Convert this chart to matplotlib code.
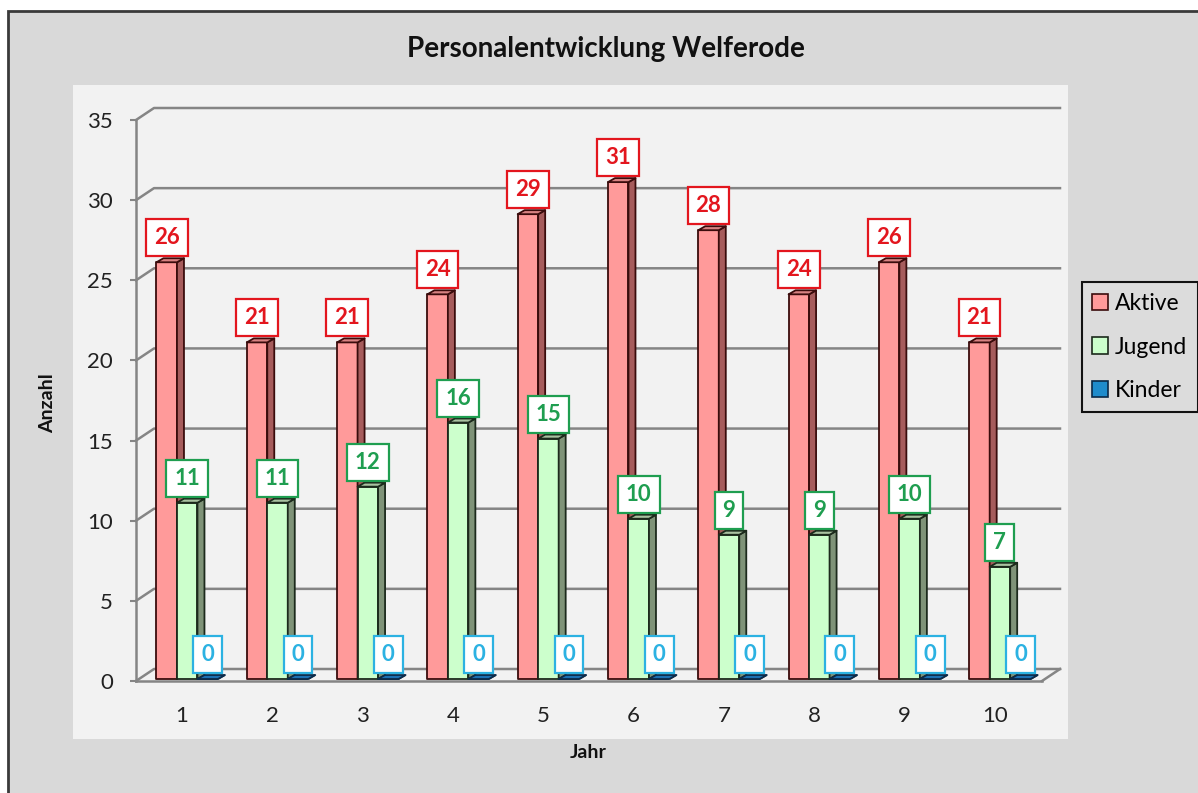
import numpy as np
import matplotlib.pyplot as plt
from matplotlib.patches import Polygon, Rectangle, Patch

plt.rcParams['font.family'] = ['Lato', 'DejaVu Sans']

# Personalstand je Jahr
jahre = np.arange(1, 11)
aktive = [26, 21, 21, 24, 29, 31, 28, 24, 26, 21]
jugend = [11, 11, 12, 16, 15, 10, 9, 9, 10, 7]
kinder = [0, 0, 0, 0, 0, 0, 0, 0, 0, 0]
serien = ['Aktive', 'Jugend', 'Kinder']
y_ticks = [0, 5, 10, 15, 20, 25, 30, 35]

# Farben: Vorderseite, Seite, Deckel, Kante, Beschriftung
farben = {
    'Aktive': ('#ff9a9a', '#a65c5c', '#d88282', '#3a0c0c', '#e3161e'),
    'Jugend': ('#ccffcc', '#7f9378', '#a9c2a1', '#1c2a1c', '#1f9e50'),
    'Kinder': ('#1f8ccc', '#14598a', '#1b70b2', '#0b2a48', '#2cb2e2'),
}

W, H = 1198, 793
fig = plt.figure(figsize=(W / 100, H / 100), dpi=100)
fig.patch.set_facecolor('white')

# Diagrammflaeche + Zeichnungsflaeche
fig.add_artist(Rectangle((8 / W, -0.05), 1.1, 1.05 - 11 / H, transform=fig.transFigure,
                         facecolor='#d9d9d9', edgecolor='#3a3a3a', lw=2, zorder=-10))
fig.add_artist(Rectangle((73 / W, 1 - 739 / H), 995 / W, 654 / H, transform=fig.transFigure,
                         facecolor='#f2f2f2', edgecolor='none', zorder=-9))

ax = fig.add_axes([136 / W, 1 - 681 / H, 906 / W, 561 / H])
ax.patch.set_visible(False)
x0, x1 = 0.491, 10.524
ax.set_xlim(x0, x1)
ax.set_ylim(0, 35)

# Pixel -> Dateneinheiten
sx = (x1 - x0) / 906
sy = 35 / 561
wand_dx, wand_dy = 18 * sx, 12 * sy
tief_dx, tief_dy = 7 * sx, 4 * sy
breite = 20.5 * sx
hub = 2 * sy
grid_c = '#858585'

# Rueckwand-Gitterlinien und Boden
for v in y_ticks:
    ax.plot([x0, x0 + wand_dx, x1 + wand_dx], [v, v + wand_dy, v + wand_dy],
            color=grid_c, lw=1.8, clip_on=False, zorder=1)
ax.plot([x1, x1 + wand_dx], [0, wand_dy], color=grid_c, lw=1.8, clip_on=False, zorder=1)


def saeule(xl, v, name):
    fc, sc, tc, ec, _ = farben[name]
    yb, yt = hub, v + hub
    kw = dict(edgecolor=ec, lw=1.3, clip_on=False, zorder=3, joinstyle='round')
    ax.add_patch(Rectangle((xl, yb), breite, v, facecolor=fc, **kw))
    ax.add_patch(Polygon([(xl + breite, yb), (xl + breite + tief_dx, yb + tief_dy),
                          (xl + breite + tief_dx, yt + tief_dy), (xl + breite, yt)],
                         facecolor=sc, **kw))
    ax.add_patch(Polygon([(xl, yt), (xl + tief_dx, yt + tief_dy),
                          (xl + breite + tief_dx, yt + tief_dy), (xl + breite, yt)],
                         facecolor=tc, **kw))


versatz = {'Aktive': -25.5 * sx, 'Jugend': -5 * sx, 'Kinder': 15.5 * sx}
werte = {'Aktive': aktive, 'Jugend': jugend, 'Kinder': kinder}

for i, j in enumerate(jahre):
    for name in serien:
        v = werte[name][i]
        xl = j + versatz[name]
        saeule(xl, v, name)
        lc = farben[name][4]
        ax.annotate(str(v), (xl + breite / 2, v + hub), xytext=(0, 14),
                    textcoords='offset pixels', ha='center', va='bottom',
                    fontsize=16, fontweight='bold', color=lc, zorder=6,
                    annotation_clip=False,
                    bbox=dict(boxstyle='square,pad=0.36', facecolor='white',
                              edgecolor=lc, lw=1.6))

# Achsen
for s in ['top', 'right']:
    ax.spines[s].set_visible(False)
for s in ['left', 'bottom']:
    ax.spines[s].set_color(grid_c)
    ax.spines[s].set_linewidth(1.8)
ax.set_yticks(y_ticks)
ax.set_xticks(jahre)
ax.tick_params(axis='y', length=4.5, width=1.5, color=grid_c, pad=12, labelsize=16,
               labelcolor='#222222')
ax.tick_params(axis='x', length=0, pad=18, labelsize=16, labelcolor='#222222')

fig.text(606 / W, 1 - 49 / H, 'Personalentwicklung Welferode', ha='center', va='center',
         fontsize=20, fontweight='bold', color='#111111')
fig.text(48 / W, 1 - 403 / H, 'Anzahl', rotation=90, ha='center', va='center',
         fontsize=14, fontweight='bold', color='#111111')
fig.text(588 / W, 1 - 753 / H, 'Jahr', ha='center', va='center',
         fontsize=14, fontweight='bold', color='#111111')

handles = [Patch(facecolor=farben[n][0], edgecolor=farben[n][3], lw=1.2, label=n) for n in serien]
leg = fig.legend(handles=handles, loc='center left', bbox_to_anchor=(1082 / W, 1 - 347 / H),
                 fontsize=16.5, frameon=True, fancybox=False, handlelength=0.7,
                 handleheight=0.7, handletextpad=0.3, labelspacing=1.0,
                 borderpad=0.45, borderaxespad=0, facecolor='#dcdcdc', edgecolor='#111111')
leg.get_frame().set_linewidth(1.5)
leg.get_frame().set_alpha(None)

fig.savefig('out.png', dpi=100)
